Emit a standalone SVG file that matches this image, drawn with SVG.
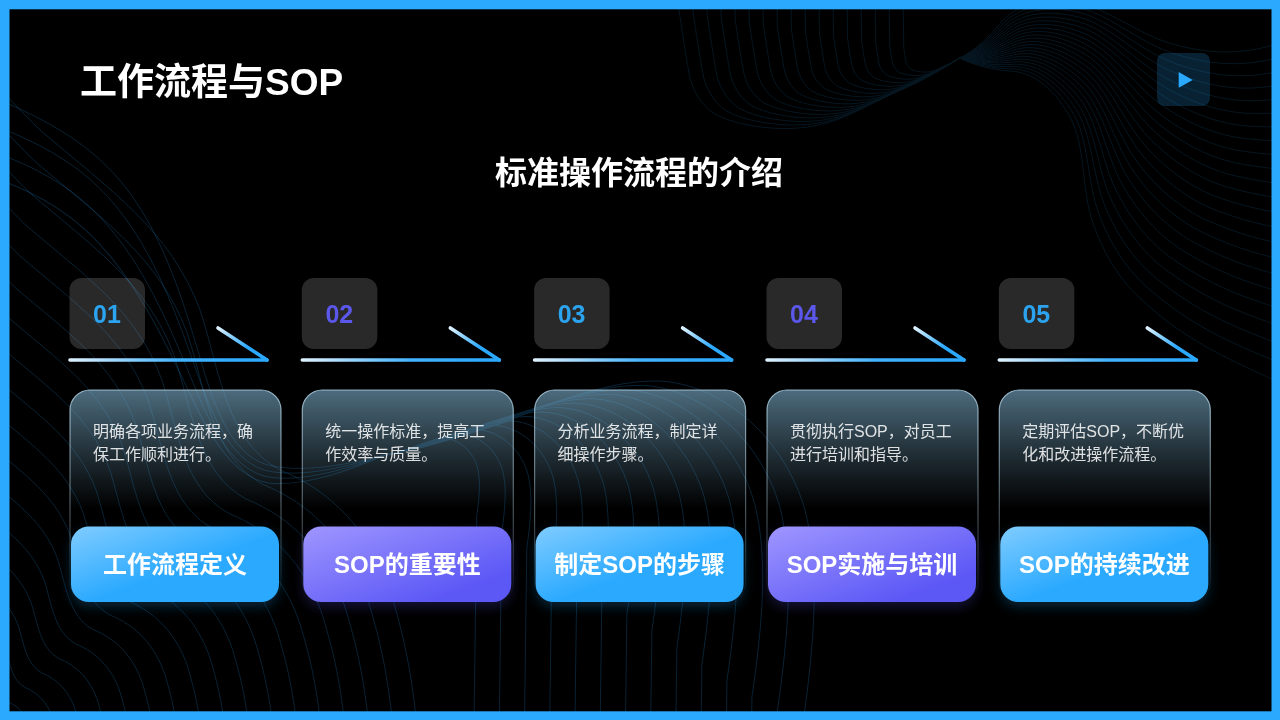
<svg xmlns="http://www.w3.org/2000/svg" width="1280" height="720" viewBox="0 0 1280 720">
<style>
text{font-family:"Liberation Sans","Noto Sans CJK SC",sans-serif}
.w{fill:none;stroke:#2aa9ff;stroke-width:1;vector-effect:non-scaling-stroke}
.card{fill:url(#cardFill);stroke:url(#cardStroke);stroke-width:1.2}
.num{fill:#fff;fill-opacity:.16}
.numtxt{font-size:25px;font-weight:700;text-anchor:middle}
.desc{font-size:16px;fill:#fff;fill-opacity:.85}
.lab{font-size:24px;font-weight:700;fill:#fff;text-anchor:middle}
.blue{fill:url(#btnBlue);filter:url(#glowBlue)}
.purple{fill:url(#btnPurple);filter:url(#glowPurple)}
.line{fill:none;stroke-width:3.6;stroke-linecap:round}
</style>
<defs>
<linearGradient id="cardFill" gradientUnits="userSpaceOnUse" x1="0" y1="390" x2="0" y2="602"><stop offset="0" stop-color="#7fb3d0" stop-opacity=".6"/><stop offset=".3" stop-color="#7fb3d0" stop-opacity=".26"/><stop offset=".56" stop-color="#7fb3d0" stop-opacity="0"/></linearGradient>
<linearGradient id="cardStroke" gradientUnits="userSpaceOnUse" x1="0" y1="390" x2="0" y2="602"><stop offset="0" stop-color="#bfe2f5" stop-opacity=".75"/><stop offset=".6" stop-color="#bfe2f5" stop-opacity=".35"/><stop offset="1" stop-color="#bfe2f5" stop-opacity="0"/></linearGradient>
<linearGradient id="btnBlue" x1="0" y1="0" x2="1" y2="1"><stop offset="0" stop-color="#80ccff"/><stop offset=".55" stop-color="#2aa9ff"/><stop offset="1" stop-color="#2aa9ff"/></linearGradient>
<linearGradient id="btnPurple" x1="0" y1="0" x2="1" y2="1"><stop offset="0" stop-color="#9f96ff"/><stop offset=".8" stop-color="#5c58f6"/><stop offset="1" stop-color="#5c58f6"/></linearGradient>
<linearGradient id="lineA" gradientUnits="userSpaceOnUse" x1="70" y1="0" x2="267" y2="0"><stop offset="0" stop-color="#dff2ff"/><stop offset=".55" stop-color="#43b3ff"/><stop offset="1" stop-color="#2aa9ff"/></linearGradient>
<linearGradient id="lineB" gradientUnits="userSpaceOnUse" x1="218" y1="328" x2="267" y2="360"><stop offset="0" stop-color="#dff2ff"/><stop offset=".6" stop-color="#2aa9ff"/></linearGradient>
<filter id="glowBlue" x="-15%" y="-20%" width="130%" height="150%"><feDropShadow dx="0" dy="5" stdDeviation="6" flood-color="#2aa9ff" flood-opacity=".22"/></filter>
<filter id="glowPurple" x="-15%" y="-20%" width="130%" height="150%"><feDropShadow dx="0" dy="5" stdDeviation="6" flood-color="#5c58f6" flood-opacity=".22"/></filter>
<clipPath id="inner"><rect x="9.5" y="9.3" width="1262" height="702"/></clipPath>
<path id="aL" class="w" d="M0 0C-20 12-40 24-59 32C-80 41-98 51-116 59C-140 69-165 72-189 70C-215 68-235 62-247 55C-260 45-268 32-271 15C-275-8-278-28-281-48L-288-558"/>
<path id="aR" class="w" d="M0 0C15 8 35 12 50 13C80 14 102 42 113 65C125 92 122 132 132 162C145 202 165 227 182 242C230 287 280 307 360 342"/>
<path id="bR" class="w" d="M0 0C35-5 80-20 118-32C175-55 225-75 275-74C340-70 400-15 420 55C435 115 430 185 417 275L395 1945"/>
<path id="bL" class="w" d="M0 0C-35 7-85 15-120 3C-145-7-163-35-178-100C-190-150-205-215-235-265C-270-325-325-360-425-400"/>
<path id="cC" class="w" d="M0-760C30-700 60-670 100-630C170-570 230-530 260-450C280-390 285-320 340-290C390-270 430-230 450-170C465-120 478-70 482 50"/>
</defs>
<rect width="1280" height="720" fill="#2aa9ff"/>
<rect x="9.5" y="9.3" width="1262" height="702" fill="#000"/>
<g id="background-waves" clip-path="url(#inner)">
<g opacity=".13" transform="translate(960 58)">
<use href="#aL"/><use href="#aL" transform="scale(.95)"/><use href="#aL" transform="scale(.9)"/><use href="#aL" transform="scale(.85)"/><use href="#aL" transform="scale(.8)"/><use href="#aL" transform="scale(.75)"/><use href="#aL" transform="scale(.7)"/><use href="#aL" transform="scale(.65)"/><use href="#aL" transform="scale(.6)"/><use href="#aL" transform="scale(.55)"/><use href="#aL" transform="scale(.5)"/><use href="#aL" transform="scale(.45)"/><use href="#aL" transform="scale(.4)"/><use href="#aL" transform="scale(.35)"/><use href="#aL" transform="scale(.3)"/><use href="#aL" transform="scale(.25)"/><use href="#aL" transform="scale(.2)"/>
<use href="#aR"/><use href="#aR" transform="rotate(-2.5)"/><use href="#aR" transform="rotate(-5)"/><use href="#aR" transform="rotate(-7.5)"/><use href="#aR" transform="rotate(-10)"/><use href="#aR" transform="rotate(-12.5)"/><use href="#aR" transform="rotate(-15)"/><use href="#aR" transform="rotate(-17.5)"/><use href="#aR" transform="rotate(-20)"/><use href="#aR" transform="rotate(-22.5)"/><use href="#aR" transform="rotate(-25)"/><use href="#aR" transform="rotate(-27.5)"/><use href="#aR" transform="rotate(-30)"/><use href="#aR" transform="rotate(-32.5)"/><use href="#aR" transform="rotate(-35)"/><use href="#aR" transform="rotate(-37.5)"/><use href="#aR" transform="rotate(-40)"/><use href="#aR" transform="rotate(-42.5)"/><use href="#aR" transform="rotate(-45)"/><use href="#aR" transform="rotate(-47.5)"/><use href="#aR" transform="rotate(-50)"/><use href="#aR" transform="rotate(-52.5)"/><use href="#aR" transform="rotate(-55)"/>
</g>
<g opacity=".2" transform="translate(385 455)">
<use href="#bR"/><use href="#bR" transform="scale(.94)"/><use href="#bR" transform="scale(.88)"/><use href="#bR" transform="scale(.82)"/><use href="#bR" transform="scale(.76)"/><use href="#bR" transform="scale(.7)"/><use href="#bR" transform="scale(.64)"/><use href="#bR" transform="scale(.58)"/><use href="#bR" transform="scale(.52)"/><use href="#bR" transform="scale(.46)"/><use href="#bR" transform="scale(.4)"/><use href="#bR" transform="scale(.34)"/><use href="#bR" transform="scale(.28)"/><use href="#bR" transform="scale(.22)"/>
<use href="#bL" transform="rotate(-3)"/><use href="#bL" transform="rotate(-6)"/><use href="#bL" transform="rotate(-9)"/><use href="#bL" transform="rotate(-12)"/>
</g>
<g opacity=".2" transform="translate(-60 760)">
<use href="#cC"/><use href="#cC" transform="scale(.95)"/><use href="#cC" transform="scale(.9)"/><use href="#cC" transform="scale(.85)"/><use href="#cC" transform="scale(.8)"/><use href="#cC" transform="scale(.75)"/><use href="#cC" transform="scale(.7)"/><use href="#cC" transform="scale(.65)"/><use href="#cC" transform="scale(.6)"/><use href="#cC" transform="scale(.55)"/><use href="#cC" transform="scale(.5)"/><use href="#cC" transform="scale(.45)"/><use href="#cC" transform="scale(.4)"/><use href="#cC" transform="scale(.35)"/><use href="#cC" transform="scale(.3)"/><use href="#cC" transform="scale(.25)"/><use href="#cC" transform="scale(.2)"/>
</g>
</g>
<text id="title" x="80" y="95" font-size="37" font-weight="700" fill="#fff">工作流程与SOP</text>
<text id="subtitle" x="639" y="184" font-size="32" font-weight="700" fill="#fff" text-anchor="middle">标准操作流程的介绍</text>
<g id="play-icon"><rect x="1157" y="53" width="53" height="53" rx="8" fill="#2aa9ff" fill-opacity=".2"/><path d="M1178.700 72L1192.700 80L1178.700 87.700Z" fill="#2aa9ff"/></g>
<g id="connectors">
<g id="arrow-1"><path class="line" stroke="url(#lineA)" d="M70 360H267"/><path class="line" stroke="url(#lineB)" d="M218 328L267 360"/></g>
<g id="arrow-2" transform="translate(232.3 0)"><path class="line" stroke="url(#lineA)" d="M70 360H267"/><path class="line" stroke="url(#lineB)" d="M218 328L267 360"/></g>
<g id="arrow-3" transform="translate(464.6 0)"><path class="line" stroke="url(#lineA)" d="M70 360H267"/><path class="line" stroke="url(#lineB)" d="M218 328L267 360"/></g>
<g id="arrow-4" transform="translate(697 0)"><path class="line" stroke="url(#lineA)" d="M70 360H267"/><path class="line" stroke="url(#lineB)" d="M218 328L267 360"/></g>
<g id="arrow-5" transform="translate(929.3 0)"><path class="line" stroke="url(#lineA)" d="M70 360H267"/><path class="line" stroke="url(#lineB)" d="M218 328L267 360"/></g>
</g>
<g id="node-1">
<rect class="num" x="69.500" y="278" width="75.500" height="71" rx="12"/><text class="numtxt" x="107" y="323" fill="#2ba3ee">01</text>
<rect class="card" x="70" y="390" width="211" height="212" rx="20"/>
<text class="desc" x="93" y="436.500">明确各项业务流程，确</text><text class="desc" x="93" y="459.500">保工作顺利进行。</text>
<rect class="blue" x="71" y="526.500" width="208" height="75.500" rx="18"/><text class="lab" x="175" y="573">工作流程定义</text>
</g>
<g id="node-2" transform="translate(232.3 0)">
<rect class="num" x="69.500" y="278" width="75.500" height="71" rx="12"/><text class="numtxt" x="107" y="323" fill="#5b57ea">02</text>
<rect class="card" x="70" y="390" width="211" height="212" rx="20"/>
<text class="desc" x="93" y="436.500">统一操作标准，提高工</text><text class="desc" x="93" y="459.500">作效率与质量。</text>
<rect class="purple" x="71" y="526.500" width="208" height="75.500" rx="18"/><text class="lab" x="175" y="573">SOP的重要性</text>
</g>
<g id="node-3" transform="translate(464.6 0)">
<rect class="num" x="69.500" y="278" width="75.500" height="71" rx="12"/><text class="numtxt" x="107" y="323" fill="#2ba3ee">03</text>
<rect class="card" x="70" y="390" width="211" height="212" rx="20"/>
<text class="desc" x="93" y="436.500">分析业务流程，制定详</text><text class="desc" x="93" y="459.500">细操作步骤。</text>
<rect class="blue" x="71" y="526.500" width="208" height="75.500" rx="18"/><text class="lab" x="175" y="573">制定SOP的步骤</text>
</g>
<g id="node-4" transform="translate(697 0)">
<rect class="num" x="69.500" y="278" width="75.500" height="71" rx="12"/><text class="numtxt" x="107" y="323" fill="#5b57ea">04</text>
<rect class="card" x="70" y="390" width="211" height="212" rx="20"/>
<text class="desc" x="93" y="436.500">贯彻执行SOP，对员工</text><text class="desc" x="93" y="459.500">进行培训和指导。</text>
<rect class="purple" x="71" y="526.500" width="208" height="75.500" rx="18"/><text class="lab" x="175" y="573">SOP实施与培训</text>
</g>
<g id="node-5" transform="translate(929.3 0)">
<rect class="num" x="69.500" y="278" width="75.500" height="71" rx="12"/><text class="numtxt" x="107" y="323" fill="#2ba3ee">05</text>
<rect class="card" x="70" y="390" width="211" height="212" rx="20"/>
<text class="desc" x="93" y="436.500">定期评估SOP，不断优</text><text class="desc" x="93" y="459.500">化和改进操作流程。</text>
<rect class="blue" x="71" y="526.500" width="208" height="75.500" rx="18"/><text class="lab" x="175" y="573">SOP的持续改进</text>
</g>
</svg>
